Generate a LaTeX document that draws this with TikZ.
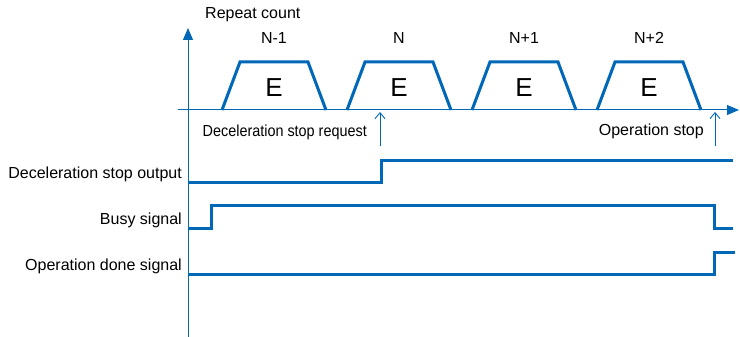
\documentclass[tikz,border=0pt]{standalone}
\usepackage{fontspec}
\setmainfont{Liberation Sans}
\usetikzlibrary{arrows.meta}
\definecolor{sigblue}{RGB}{0,104,183}
\tikzset{
  axisline/.style={draw=sigblue, line width=1pt},
  sigline/.style={draw=sigblue, line width=3pt, line join=miter},
  reqarrow/.style={draw=sigblue, line width=0.9pt, -{Straight Barb[length=6pt,width=10pt]}},
  lbl/.style={font=\fontsize{16}{18}\selectfont, inner sep=0pt},
}
\begin{document}
\begin{tikzpicture}[x=1pt, y=-1pt]
    \useasboundingbox (0,0) rectangle (740,337);

    % axes
    \coordinate (ybot) at (188,337);
    \coordinate (ytop) at (188,28);
    \coordinate (xleft) at (178,110);
    \coordinate (xright) at (739,110);
    \draw[axisline, -{Triangle[length=12pt,width=10pt]}] (ybot) -- (ytop);
    \draw[axisline, -{Triangle[length=12pt,width=10pt]}] (xleft) -- (xright);
    \node[lbl, anchor=west] (ycap) at (205,15) {Repeat count};

    % one trapezoid per repeat
    \foreach \i/\x/\cnt in {1/222/N-1, 2/347/N, 3/472/N+1, 4/597/N+2} {
        \draw[sigline] (\x,110) -- ++(18,-48) -- ++(68,0) -- ++(18,48);
        \node[lbl] (cnt\i) at (\x+52,38) {\cnt};
        \node[font=\fontsize{26}{28}\selectfont, inner sep=0pt] (e\i) at (\x+52,88) {E};
    }

    % requests
    \coordinate (reqfoot) at (380,146);
    \coordinate (reqtip) at (380,112);
    \coordinate (stopfoot) at (715,146);
    \coordinate (stoptip) at (715,112);
    \draw[reqarrow] (reqfoot) -- (reqtip);
    \draw[reqarrow] (stopfoot) -- (stoptip);
    \node[lbl, anchor=east] (reqlbl) at (367,132) {\scalebox{0.9}[1]{Deceleration stop request}};
    \node[lbl, anchor=east] (stoplbl) at (704,131) {Operation stop};

    % signals
    \node[lbl, anchor=east] (decout) at (182,174) {Deceleration stop output};
    \node[lbl, anchor=east] (busy) at (182,220) {Busy signal};
    \node[lbl, anchor=east] (done) at (182,266) {Operation done signal};
    \draw[sigline] (188,182) -- (381,182) -- (381,160) -- (733,160);
    \draw[sigline] (188,228) -- (211,228) -- (211,205) -- (714,205) -- (714,228) -- (733,228);
    \draw[sigline] (188,274) -- (714,274) -- (714,252) -- (735,252);
\end{tikzpicture}
\end{document}
